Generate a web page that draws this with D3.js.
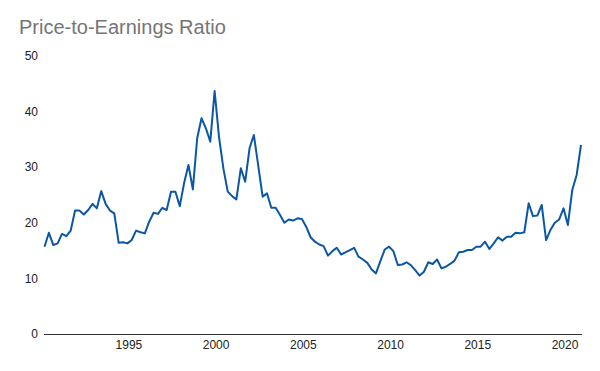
<!DOCTYPE html>
<html>
<head>
<meta charset="utf-8">
<script src="https://cdn.jsdelivr.net/npm/d3@7"></script>
<style>
  body { margin: 0; background: #fff; }
  svg { display: block; font-family: Arial, "Liberation Sans", sans-serif; }
</style>
</head>
<body>
<div id="pe-chart"></div>
<script>
// quarterly S&P P/E, first point Mar 1990, one every 3 months
var startYear = 1990;
var startMonth = 2;
var peValues = [
    15.7, 18.2, 16.0, 16.3, 18.0, 17.6, 18.6, 22.2, 22.2, 21.5, 22.3, 23.4, 22.6, 25.7, 23.4, 22.2, 21.7, 16.4, 16.5, 16.3, 16.9,
    18.6, 18.3, 18.1, 20.2, 21.8, 21.6, 22.7, 22.3, 25.6, 25.6, 23.0, 27.1, 30.4, 26.0, 35.2, 38.8, 37.0, 34.6, 43.7,
    35.5, 29.8, 25.6, 24.8, 24.2, 29.8, 27.4, 33.4, 35.8, 30.3, 24.7, 25.3, 22.7, 22.7, 21.4, 20.0, 20.6,
    20.4, 20.8, 20.7, 19.3, 17.4, 16.6, 16.1, 15.8, 14.1, 14.9, 15.5, 14.3, 14.7, 15.1, 15.5, 13.9, 13.4, 12.8, 11.6, 10.9, 13.1, 15.2, 15.7, 14.9,
    12.4, 12.5, 12.9, 12.4, 11.5, 10.5, 11.2, 12.9, 12.6, 13.4, 11.8, 12.1, 12.6, 13.2, 14.7, 14.8, 15.1, 15.1, 15.7, 15.7,
    16.6, 15.3, 16.3, 17.4, 16.8, 17.5, 17.5, 18.2, 18.1, 18.3, 23.5, 21.2, 21.3, 23.2, 16.9, 18.7, 20.0, 20.6, 22.6, 19.6, 25.9, 28.6, 34.0
];
var yTicks = [0, 10, 20, 30, 40, 50];
var xTickYears = [1995, 2000, 2005, 2010, 2015, 2020];

var width = 600, height = 371;

var chart = d3.select("#pe-chart").append("svg")
    .attr("width", width)
    .attr("height", height);

var data = peValues.map(function(v, i) {
    return { date: new Date(startYear, startMonth + i * 3, 1), pe: v };
});

var x = d3.scaleTime()
    .domain(d3.extent(data, function(d) { return d.date; }))
    .range([44.5, 581]);

var y = d3.scaleLinear()
    .domain([0, 50])
    .range([334, 56]);

// title
chart.append("text")
    .attr("x", 19)
    .attr("y", 34)
    .attr("fill", "#757575")
    .attr("font-size", 20)
    .text("Price-to-Earnings Ratio");

// y labels, no gridlines in the original
chart.selectAll(".y-label").data(yTicks).enter().append("text")
    .attr("class", "y-label")
    .attr("x", 38)
    .attr("y", function(d) { return y(d); })
    .attr("dy", "0.35em")
    .attr("text-anchor", "end")
    .attr("font-size", 12)
    .attr("fill", "#222")
    .text(function(d) { return d; });

// x labels
chart.selectAll(".x-label").data(xTickYears).enter().append("text")
    .attr("class", "x-label")
    .attr("x", function(d) { return x(new Date(d, 0, 1)); })
    .attr("y", 349)
    .attr("text-anchor", "middle")
    .attr("font-size", 12)
    .attr("fill", "#222")
    .text(function(d) { return d; });

// baseline
chart.append("line")
    .attr("x1", 44)
    .attr("x2", 582)
    .attr("y1", y(0) + 0.5)
    .attr("y2", y(0) + 0.5)
    .attr("stroke", "#333")
    .attr("stroke-width", 1);

var line = d3.line()
    .x(function(d) { return x(d.date); })
    .y(function(d) { return y(d.pe); });

chart.append("path")
    .datum(data)
    .attr("fill", "none")
    .attr("stroke", "#0b57a5")
    .attr("stroke-width", 2)
    .attr("stroke-linejoin", "round")
    .attr("d", line);
</script>
</body>
</html>
